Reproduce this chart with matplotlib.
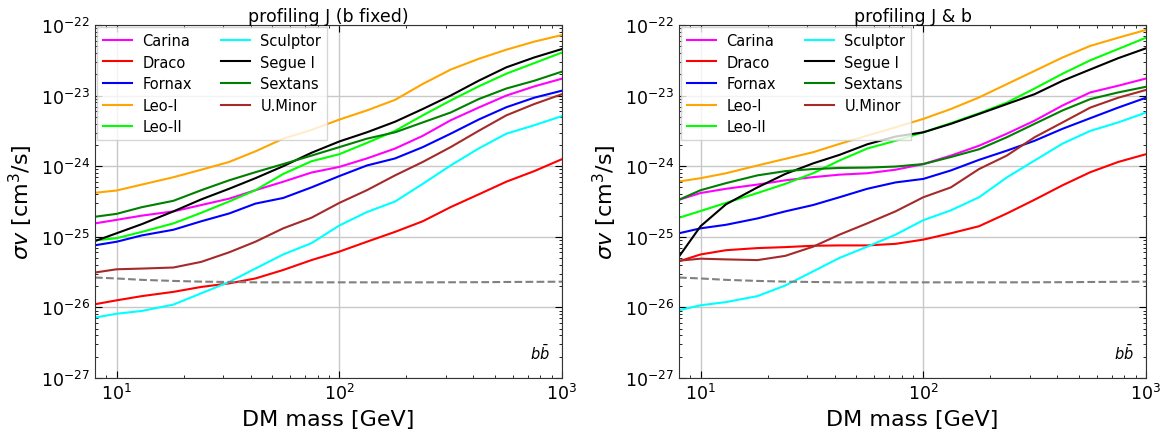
import numpy as np
import matplotlib
matplotlib.use("Agg")
import matplotlib.pyplot as plt

# DM masses [GeV]
mass = [8, 10, 13, 18, 24, 32, 42, 56, 75, 100, 133, 178, 237, 316, 422, 562, 750, 1000]

names = ["Carina", "Draco", "Fornax", "Leo-I", "Leo-II", "Sculptor", "Segue I", "Sextans", "U.Minor"]
colors = ["magenta", "red", "blue", "orange", "lime", "cyan", "black", "green", "brown"]

# log10(sigma v) limits, profiling J (b fixed)
left_carina = [-24.81, -24.76, -24.70, -24.64, -24.55, -24.46, -24.34, -24.22, -24.09, -24.01, -23.89, -23.75, -23.57, -23.35, -23.17, -23.00, -22.87, -22.76]
left_draco = [-25.955, -25.90, -25.84, -25.78, -25.71, -25.66, -25.59, -25.47, -25.33, -25.21, -25.07, -24.93, -24.78, -24.58, -24.40, -24.22, -24.07, -23.90]
left_fornax = [-25.12, -25.07, -24.98, -24.90, -24.78, -24.67, -24.53, -24.45, -24.30, -24.14, -23.99, -23.89, -23.73, -23.54, -23.34, -23.165, -23.03, -22.93]
left_leo1 = [-24.377, -24.344, -24.26, -24.156, -24.05, -23.94, -23.79, -23.61, -23.486, -23.34, -23.21, -23.06, -22.835, -22.632, -22.48, -22.35, -22.236, -22.142]
left_leo2 = [-25.05, -25.02, -24.93, -24.81, -24.66, -24.50, -24.34, -24.11, -23.93, -23.83, -23.67, -23.50, -23.28, -23.07, -22.87, -22.69, -22.54, -22.39]
left_sculptor = [-26.144, -26.09, -26.05, -25.96, -25.80, -25.64, -25.45, -25.25, -25.09, -24.84, -24.65, -24.50, -24.25, -23.99, -23.75, -23.54, -23.42, -23.29]
left_segue = [-25.06, -24.95, -24.82, -24.64, -24.47, -24.32, -24.17, -24.00, -23.81, -23.65, -23.52, -23.37, -23.19, -23.00, -22.79, -22.60, -22.46, -22.34]
left_sextans = [-24.716, -24.675, -24.58, -24.49, -24.34, -24.20, -24.085, -23.97, -23.85, -23.73, -23.61, -23.52, -23.38, -23.24, -23.05, -22.90, -22.79, -22.66]
left_uminor = [-25.506, -25.46, -25.45, -25.435, -25.355, -25.22, -25.07, -24.88, -24.73, -24.52, -24.34, -24.13, -23.94, -23.73, -23.50, -23.28, -23.12, -22.98]

# log10(sigma v) limits, profiling J & b
right_carina = [-24.475, -24.38, -24.32, -24.26, -24.20, -24.155, -24.12, -24.10, -24.05, -23.97, -23.85, -23.71, -23.54, -23.355, -23.14, -22.955, -22.86, -22.758]
right_draco = [-25.347, -25.25, -25.19, -25.16, -25.146, -25.127, -25.122, -25.122, -25.10, -25.04, -24.95, -24.85, -24.67, -24.475, -24.27, -24.085, -23.94, -23.83]
right_fornax = [-24.95, -24.88, -24.83, -24.74, -24.64, -24.55, -24.44, -24.32, -24.23, -24.18, -24.06, -23.91, -23.78, -23.64, -23.47, -23.32, -23.17, -23.03]
right_leo1 = [-24.216, -24.17, -24.10, -23.99, -23.896, -23.802, -23.685, -23.567, -23.449, -23.33, -23.19, -23.026, -22.838, -22.65, -22.46, -22.296, -22.18, -22.07]
right_leo2 = [-24.73, -24.635, -24.52, -24.38, -24.25, -24.10, -23.92, -23.75, -23.64, -23.52, -23.39, -23.25, -23.10, -22.90, -22.69, -22.50, -22.34, -22.18]
right_sculptor = [-26.04, -25.97, -25.925, -25.84, -25.69, -25.49, -25.30, -25.14, -24.97, -24.765, -24.625, -24.44, -24.16, -23.92, -23.68, -23.50, -23.38, -23.24]
right_segue = [-25.28, -24.85, -24.54, -24.30, -24.11, -23.96, -23.84, -23.69, -23.58, -23.52, -23.40, -23.26, -23.12, -22.98, -22.79, -22.63, -22.47, -22.33]
right_sextans = [-24.475, -24.34, -24.24, -24.13, -24.07, -24.04, -24.025, -24.02, -24.005, -23.97, -23.87, -23.76, -23.59, -23.40, -23.21, -23.05, -22.955, -22.875]
right_uminor = [-25.338, -25.31, -25.32, -25.33, -25.27, -25.14, -24.97, -24.81, -24.64, -24.44, -24.30, -24.04, -23.85, -23.59, -23.38, -23.17, -23.03, -22.92]

# thermal relic cross section (log10)
thermal = [-25.577, -25.59, -25.61, -25.625, -25.635, -25.64, -25.645, -25.645, -25.645, -25.645, -25.645, -25.645, -25.645, -25.644, -25.643, -25.64, -25.638, -25.636]

left_sets = [left_carina, left_draco, left_fornax, left_leo1, left_leo2, left_sculptor, left_segue, left_sextans, left_uminor]
right_sets = [right_carina, right_draco, right_fornax, right_leo1, right_leo2, right_sculptor, right_segue, right_sextans, right_uminor]
titles = ["profiling J (b fixed)", "profiling J & b"]

fig = plt.figure(figsize=(11.75, 4.35), dpi=100)
axes = [fig.add_axes([95/1175, 56/435, 467/1175, 353/435]),
        fig.add_axes([679/1175, 56/435, 467/1175, 353/435])]

for ax, sets, title in zip(axes, [left_sets, right_sets], titles):
    for name, col, vals in zip(names, colors, sets):
        ax.plot(mass, 10**np.array(vals), color=col, lw=1.5, label=name)
    ax.plot(mass, 10**np.array(thermal), color="grey", lw=1.5, ls="--")
    ax.set_xscale("log")
    ax.set_yscale("log")
    ax.set_xlim(8, 1000)
    ax.set_ylim(1e-27, 1e-22)
    ax.grid(True, which="major", color="#c8c8c8", lw=1)
    ax.tick_params(which="both", direction="in", top=True, right=True, labelsize=12.5)
    ax.tick_params(which="major", length=5)
    ax.tick_params(which="minor", length=2.5)
    for sp in ax.spines.values():
        sp.set_color("#333333")
    ax.set_xlabel("DM mass [GeV]", fontsize=16)
    ax.set_ylabel(r"$\sigma v$ [cm$^3$/s]", fontsize=16)
    ax.set_title(title, fontsize=12.5, pad=3)
    ax.text(0.975, 0.045, r"$b\bar{b}$", transform=ax.transAxes, ha="right", va="bottom", fontsize=10.5)
    ax.legend(loc="upper left", ncol=2, fontsize=10.5, borderaxespad=0.15, framealpha=0.8,
              edgecolor="#cccccc", fancybox=False, handletextpad=0.7, labelspacing=0.45)

fig.savefig("out.png", dpi=100)
